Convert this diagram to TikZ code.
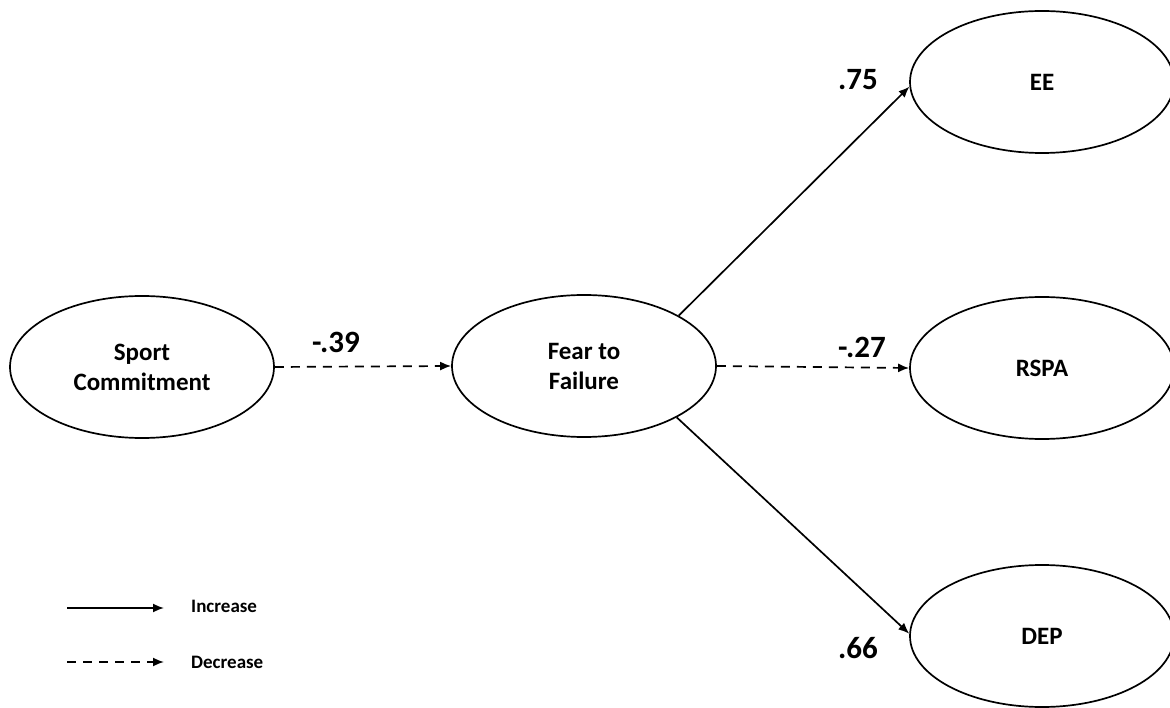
\documentclass[tikz,border=0pt]{standalone}
\usepackage{fontspec}
\setmainfont{Carlito}
\usetikzlibrary{shapes.geometric,arrows.meta}

\begin{document}
\begin{tikzpicture}[x=1pt,y=-1pt,
  latent/.style={ellipse,draw,line width=1.7pt,minimum width=264pt,minimum height=142pt,
    inner sep=0pt,align=center,font=\fontsize{25}{30}\selectfont\bfseries},
  path/.style={line width=1.7pt,-{Latex[length=11pt,width=9pt]}},
  neg/.style={path,dash pattern=on 9pt off 7pt},
  coef/.style={font=\fontsize{31}{36}\selectfont\bfseries,inner sep=0pt},
  legtext/.style={font=\fontsize{19}{22}\selectfont\bfseries,anchor=west,inner sep=0pt}]
  \useasboundingbox (0,0) rectangle (1170,708);

  % latent variables
  \node[latent] (sc)   at (142,367)  {Sport\\Commitment};
  \node[latent] (ff)   at (584,366)  {Fear to\\Failure};
  \node[latent] (ee)   at (1042,82)  {EE};
  \node[latent] (rspa) at (1042,368) {RSPA};
  \node[latent] (dep)  at (1042,636) {DEP};

  % structural paths
  \draw[neg]  (sc.east) -- (ff.west);
  \draw[path] (ff.28)   -- (ee.182);
  \draw[neg]  (ff.east) -- (rspa.west);
  \draw[path] (ff.-29)  -- (dep.179);

  % path coefficients
  \node[coef] (c39) at (336,342) {-.39};
  \node[coef] (c75) at (858,80)  {.75};
  \node[coef] (c27) at (862,347) {-.27};
  \node[coef] (c66) at (858,648) {.66};

  % legend
  \coordinate (incA) at (67,608);
  \coordinate (incB) at (164,608);
  \coordinate (decA) at (67,662);
  \coordinate (decB) at (164,662);
  \draw[path] (incA) -- (incB);
  \draw[neg]  (decA) -- (decB);
  \node[legtext] (inc) at (191,606) {Increase};
  \node[legtext] (dec) at (191,662) {Decrease};
\end{tikzpicture}
\end{document}
